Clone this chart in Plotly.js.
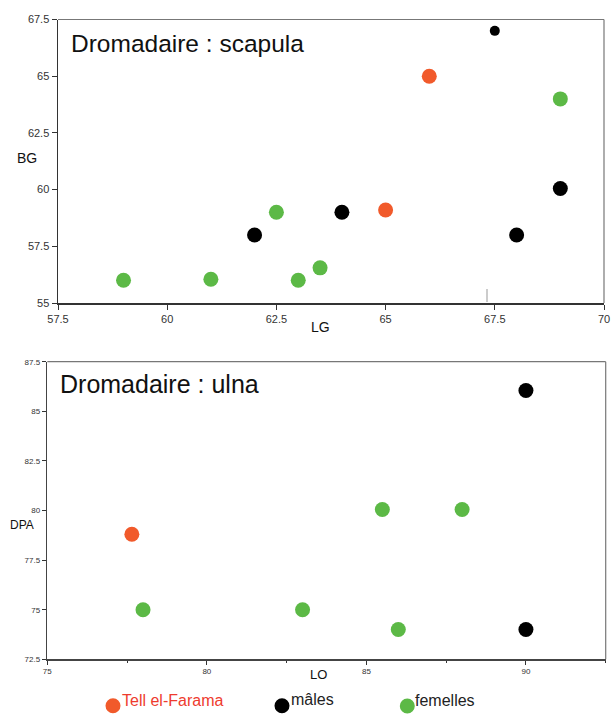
<!DOCTYPE html>
<html>
<head>
<meta charset="utf-8">
<script src="https://cdn.plot.ly/plotly-3.0.1.min.js"></script>
<style>html,body{margin:0;padding:0;background:#fff;}#chart{width:614px;height:714px;}</style>
</head>
<body>
<div id="chart"></div>
<script>
// ---- Data: scapula (LG vs BG) ----
const scapulaFaramaLG = [65, 66];
const scapulaFaramaBG = [59.1, 65];
const scapulaMalesLG = [62, 64, 67.5, 68, 69];
const scapulaMalesBG = [58, 59, 67, 58, 60.05];
const scapulaFemellesLG = [59, 61, 62.5, 63, 63.5, 69];
const scapulaFemellesBG = [56, 56.05, 59, 56, 56.55, 64];

// ---- Data: ulna (LO vs DPA) ----
const ulnaFaramaLO = [77.65];
const ulnaFaramaDPA = [78.8];
const ulnaMalesLO = [90, 90];
const ulnaMalesDPA = [86.05, 74];
const ulnaFemellesLO = [78, 83, 85.5, 86, 88];
const ulnaFemellesDPA = [75, 75, 80.05, 74, 80.05];

// ---- Labels ----
const titleScapula = "Dromadaire : scapula";
const titleUlna = "Dromadaire : ulna";
const legendLabels = ["Tell el-Farama", "mâles", "femelles"];
const scapulaXTicks = [57.5, 60, 62.5, 65, 67.5, 70];
const scapulaYTicks = [55, 57.5, 60, 62.5, 65, 67.5];
const ulnaXTicks = [75, 80, 85, 90];
const ulnaXMinorTicks = [77.5, 82.5, 87.5, 92.5];
const ulnaYTicks = [72.5, 75, 77.5, 80, 82.5, 85, 87.5];

const RED = "#f15a2b", GREEN = "#5cb946", BLACK = "#000000";
const W = 614, H = 714;
const px = v => v / W;
const py = v => 1 - v / H;

const mk = (c, s) => ({color: c, size: s, opacity: 1, line: {width: 0}});

const traces = [
  {x: scapulaFaramaLG, y: scapulaFaramaBG, xaxis: "x", yaxis: "y", mode: "markers", type: "scatter", marker: mk(RED, 15)},
  {x: scapulaMalesLG, y: scapulaMalesBG, xaxis: "x", yaxis: "y", mode: "markers", type: "scatter",
   marker: {color: BLACK, opacity: 1, size: scapulaMalesLG.map((v, i) => i === 2 ? 10 : 15), line: {width: 0}}},
  {x: scapulaFemellesLG, y: scapulaFemellesBG, xaxis: "x", yaxis: "y", mode: "markers", type: "scatter", marker: mk(GREEN, 15)},
  {x: ulnaFaramaLO, y: ulnaFaramaDPA, xaxis: "x2", yaxis: "y2", mode: "markers", type: "scatter", marker: mk(RED, 15)},
  {x: ulnaMalesLO, y: ulnaMalesDPA, xaxis: "x2", yaxis: "y2", mode: "markers", type: "scatter", marker: mk(BLACK, 15)},
  {x: ulnaFemellesLO, y: ulnaFemellesDPA, xaxis: "x2", yaxis: "y2", mode: "markers", type: "scatter", marker: mk(GREEN, 15)}
];

const axBase = {
  showgrid: false, zeroline: false, showline: true, linecolor: "#333", linewidth: 1.5,
  ticks: "outside", ticklen: 5, tickwidth: 1, tickcolor: "#333", fixedrange: true
};

const layout = {
  width: W, height: H,
  margin: {l: 0, r: 0, t: 0, b: 0},
  paper_bgcolor: "#fff", plot_bgcolor: "#fff",
  showlegend: false,
  font: {family: "Liberation Sans, Arial, sans-serif", color: "#222"},
  xaxis: Object.assign({}, axBase, {
    domain: [px(58), px(604)], range: [57.5, 70], anchor: "y",
    tickvals: scapulaXTicks, ticktext: scapulaXTicks.map(String),
    tickfont: {size: 11, color: "#333"}
  }),
  yaxis: Object.assign({}, axBase, {
    domain: [py(303), py(19.5)], range: [55, 67.5], anchor: "x",
    tickvals: scapulaYTicks, ticktext: scapulaYTicks.map(String),
    tickfont: {size: 11, color: "#333"}
  }),
  xaxis2: Object.assign({}, axBase, {
    domain: [px(47.3), px(605.7)], range: [75, 92.5], anchor: "y2",
    tickvals: ulnaXTicks, ticktext: ulnaXTicks.map(String), linecolor: "#444", ticklen: 4,
    minor: {tickvals: ulnaXMinorTicks, ticks: "outside", ticklen: 2.5, tickcolor: "#333", tickwidth: 1, showgrid: false},
    tickfont: {size: 8, color: "#333"}
  }),
  yaxis2: Object.assign({}, axBase, {
    domain: [py(659.3), py(361.7)], range: [72.5, 87.5], anchor: "x2", linecolor: "#444", ticklen: 4,
    tickvals: ulnaYTicks, ticktext: ulnaYTicks.map(String),
    tickfont: {size: 8, color: "#333"}
  }),
  shapes: [
    // frame top/right (grey)
    {type: "line", xref: "paper", yref: "paper", x0: px(58), x1: px(604), y0: py(19.5), y1: py(19.5), line: {color: "#777", width: 1.2}},
    {type: "line", xref: "paper", yref: "paper", x0: px(604), x1: px(604), y0: py(19.5), y1: py(303), line: {color: "#777", width: 1.2}},
    {type: "line", xref: "paper", yref: "paper", x0: px(47.3), x1: px(605.7), y0: py(361.7), y1: py(361.7), line: {color: "#777", width: 1.2}},
    {type: "line", xref: "paper", yref: "paper", x0: px(605.7), x1: px(605.7), y0: py(361.7), y1: py(659.3), line: {color: "#777", width: 1.2}},
    // stray grey tick in the scapula panel
    {type: "line", xref: "paper", yref: "paper", x0: px(487), x1: px(487), y0: py(289), y1: py(302), line: {color: "#999", width: 1}},
    // legend dots
    {type: "circle", xref: "paper", yref: "paper", xsizemode: "pixel", ysizemode: "pixel",
     xanchor: px(113), yanchor: py(705.7), x0: -7.5, x1: 7.5, y0: -7.5, y1: 7.5, fillcolor: RED, line: {width: 0}},
    {type: "circle", xref: "paper", yref: "paper", xsizemode: "pixel", ysizemode: "pixel",
     xanchor: px(282), yanchor: py(705.7), x0: -7.5, x1: 7.5, y0: -7.5, y1: 7.5, fillcolor: BLACK, line: {width: 0}},
    {type: "circle", xref: "paper", yref: "paper", xsizemode: "pixel", ysizemode: "pixel",
     xanchor: px(407.3), yanchor: py(706), x0: -7.5, x1: 7.5, y0: -7.5, y1: 7.5, fillcolor: GREEN, line: {width: 0}}
  ],
  annotations: [
    {text: titleScapula, xref: "paper", yref: "paper", x: px(69), y: py(43), xanchor: "left", yanchor: "middle", showarrow: false,
     font: {size: 24.5, color: "#111"}},
    {text: titleUlna, xref: "paper", yref: "paper", x: px(58), y: py(384), xanchor: "left", yanchor: "middle", showarrow: false,
     font: {size: 25, color: "#111"}},
    {text: "BG", xref: "paper", yref: "paper", x: px(27), y: py(158), xanchor: "center", yanchor: "middle", showarrow: false,
     font: {size: 14, color: "#111"}},
    {text: "LG", xref: "paper", yref: "paper", x: px(320), y: py(327), xanchor: "center", yanchor: "middle", showarrow: false,
     font: {size: 14, color: "#111"}},
    {text: "DPA", xref: "paper", yref: "paper", x: px(22), y: py(525), xanchor: "center", yanchor: "middle", showarrow: false,
     font: {size: 12, color: "#111"}},
    {text: "LO", xref: "paper", yref: "paper", x: px(318), y: py(674), xanchor: "center", yanchor: "middle", showarrow: false,
     font: {size: 13, color: "#111"}},
    {text: legendLabels[0], xref: "paper", yref: "paper", x: px(120), y: py(700), xanchor: "left", yanchor: "middle", showarrow: false,
     font: {size: 16, color: "#ee3b2e"}},
    {text: legendLabels[1], xref: "paper", yref: "paper", x: px(289), y: py(699), xanchor: "left", yanchor: "middle", showarrow: false,
     font: {size: 16, color: "#222"}},
    {text: legendLabels[2], xref: "paper", yref: "paper", x: px(413), y: py(700), xanchor: "left", yanchor: "middle", showarrow: false,
     font: {size: 16, color: "#222"}}
  ]
};

Plotly.newPlot("chart", traces, layout, {staticPlot: true, displayModeBar: false});
</script>
</body>
</html>
